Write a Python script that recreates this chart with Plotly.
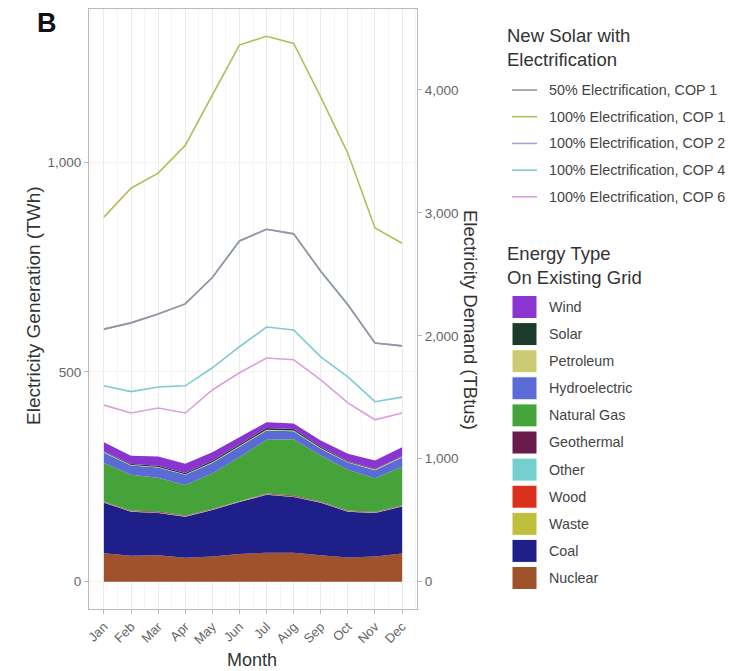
import plotly.graph_objects as go

# ---- data -------------------------------------------------------------
months = ["Jan", "Feb", "Mar", "Apr", "May", "Jun",
          "Jul", "Aug", "Sep", "Oct", "Nov", "Dec"]
month_num = [1, 2, 3, 4, 5, 6, 7, 8, 9, 10, 11, 12]

# Existing grid generation by source (TWh), stacked bottom -> top
nuclear = [68, 62, 63, 57, 60, 66, 69, 69, 63, 58, 60, 67]
coal = [120, 105, 101, 98, 111, 124, 138, 133, 125, 109, 104, 112]
waste = [0.6, 0.5, 0.6, 0.5, 0.6, 0.6, 0.6, 0.6, 0.6, 0.5, 0.5, 0.6]
wood = [0.8, 0.7, 0.8, 0.7, 0.7, 0.8, 0.9, 0.9, 0.8, 0.7, 0.7, 0.8]
other = [0.4, 0.4, 0.4, 0.4, 0.4, 0.4, 0.5, 0.5, 0.4, 0.4, 0.4, 0.4]
geothermal = [1.3, 1.2, 1.3, 1.2, 1.3, 1.3, 1.4, 1.4, 1.3, 1.3, 1.3, 1.3]
natural_gas = [92, 85, 81, 73, 84, 104, 128, 134, 110, 97, 80, 92]
hydroelectric = [24, 22, 24, 24, 25, 24, 22, 19, 16, 17, 19, 22]
petroleum = [1.8, 1.6, 1.5, 1.3, 1.5, 1.7, 1.9, 1.8, 1.6, 1.4, 1.5, 1.7]
solar = [1.5, 2, 3, 3, 4, 4, 4, 4, 3, 2, 1.5, 1.5]
wind = [22, 20, 22, 22, 20, 17, 14, 13, 15, 18, 20, 21]

# Demand with new solar + electrification (TBtu)
elec50_cop1 = [2054, 2105, 2177, 2259, 2474, 2771, 2866, 2829, 2525, 2252, 1941, 1918]
elec100_cop1 = [2965, 3200, 3323, 3548, 3958, 4364, 4436, 4378, 3941, 3484, 2876, 2753]
elec100_cop2 = [2054, 2105, 2177, 2259, 2474, 2771, 2866, 2829, 2525, 2252, 1941, 1918]
elec100_cop4 = [1593, 1546, 1583, 1593, 1740, 1911, 2071, 2047, 1829, 1665, 1464, 1501]
elec100_cop6 = [1436, 1372, 1413, 1372, 1559, 1699, 1819, 1805, 1641, 1454, 1317, 1372]

TBTU_PER_TWH = 3.412

energy_names = ["Nuclear", "Coal", "Waste", "Wood", "Other", "Geothermal",
                "Natural Gas", "Hydroelectric", "Petroleum", "Solar", "Wind"]
energy_values = [nuclear, coal, waste, wood, other, geothermal,
                 natural_gas, hydroelectric, petroleum, solar, wind]
energy_colors = ["#a0522d", "#1f1f8a", "#bfbf3c", "#d9301e", "#74d0cf", "#6a1b4d",
                 "#46a33a", "#5b6bd6", "#c9cc72", "#1d3b2c", "#8a35cf"]

demand_names = ["50% Electrification, COP 1", "100% Electrification, COP 1",
                "100% Electrification, COP 2", "100% Electrification, COP 4",
                "100% Electrification, COP 6"]
demand_values = [elec50_cop1, elec100_cop1, elec100_cop2, elec100_cop4, elec100_cop6]
demand_colors = ["#8f9aa3", "#b8bb5c", "#a3a3d6", "#7ccbd3", "#d9a0d9"]

# ---- layout geometry (pixels) -----------------------------------------
W, H = 755, 671
L, R, T, B = 89, 417, 9, 609
y_range = [-65, 1365]


def px(xp):
    return (xp - L) / (R - L)


def py(yp):
    return (B - yp) / (B - T)


FONT = "Liberation Sans, Arial, sans-serif"
fig = go.Figure()

# stacked areas for the existing grid
for name, vals, col in zip(energy_names, energy_values, energy_colors):
    fig.add_trace(go.Scatter(
        x=month_num, y=vals, name=name, stackgroup="grid", mode="lines",
        line=dict(width=0, color=col), fillcolor=col, showlegend=False,
    ))

# demand lines on the TBtu axis (COP 2 drawn first so the 50% line sits on top)
draw_order = [2, 1, 3, 4, 0]
for i in draw_order:
    fig.add_trace(go.Scatter(
        x=month_num, y=demand_values[i], name=demand_names[i], yaxis="y2",
        mode="lines", line=dict(width=1.6, color=demand_colors[i]), showlegend=False,
    ))

grid_col = "#b9b9b9"
fig.update_layout(
    width=W, height=H,
    margin=dict(l=L, r=W - R, t=T, b=H - B),
    paper_bgcolor="white", plot_bgcolor="white",
    font=dict(family=FONT, color="#555555"),
    showlegend=False,
    xaxis=dict(
        range=[0.45, 12.55], tickvals=month_num, ticktext=months, tickangle=-45,
        tickfont=dict(size=13, color="#666666"),
        showgrid=True, gridcolor="#ebebeb", gridwidth=1,
        minor=dict(dtick=0.5, tick0=0.5, showgrid=True, gridcolor="#f5f5f5", gridwidth=1),
        ticks="outside", ticklen=4, tickcolor=grid_col,
        showline=True, linecolor=grid_col, linewidth=1, mirror=True, zeroline=False,
    ),
    yaxis=dict(
        range=y_range, tickvals=[0, 500, 1000], tickformat=",",
        tickfont=dict(size=13.5, color="#666666"),
        showgrid=True, gridcolor="#f3f3f3", gridwidth=1,
        ticks="outside", ticklen=4, tickcolor=grid_col,
        showline=True, linecolor=grid_col, linewidth=1, mirror=True, zeroline=False,
    ),
    yaxis2=dict(
        range=[y_range[0] * TBTU_PER_TWH, y_range[1] * TBTU_PER_TWH],
        overlaying="y", side="right", anchor="x",
        tickvals=[0, 1000, 2000, 3000, 4000], tickformat=",",
        tickfont=dict(size=13.5, color="#666666"),
        showgrid=False, ticks="outside", ticklen=4, tickcolor=grid_col,
        showline=False, zeroline=False,
    ),
)

ann = []
shapes = []

# panel letter
ann.append(dict(x=px(47), y=py(23), xref="paper", yref="paper", text="<b>B</b>",
                showarrow=False, font=dict(size=27, color="#111111", family=FONT),
                xanchor="center", yanchor="middle"))
# axis titles
ann.append(dict(x=px(33), y=py(306), xref="paper", yref="paper",
                text="Electricity Generation (TWh)", textangle=-90, showarrow=False,
                font=dict(size=19, color="#333333", family=FONT),
                xanchor="center", yanchor="middle"))
ann.append(dict(x=px(471), y=py(320), xref="paper", yref="paper",
                text="Electricity Demand (TBtus)", textangle=90, showarrow=False,
                font=dict(size=18.5, color="#333333", family=FONT),
                xanchor="center", yanchor="middle"))
ann.append(dict(x=px(252), y=py(660), xref="paper", yref="paper",
                text="Month", showarrow=False,
                font=dict(size=18, color="#333333", family=FONT),
                xanchor="center", yanchor="middle"))

# legend: demand lines
ann.append(dict(x=px(505), y=py(48), xref="paper", yref="paper",
                text="New Solar with<br>Electrification", showarrow=False, align="left",
                font=dict(size=18.5, color="#333333", family=FONT),
                xanchor="left", yanchor="middle"))
for k, (name, col) in enumerate(zip(demand_names, demand_colors)):
    yc = 90 + 26.7 * k
    shapes.append(dict(type="line", xref="paper", yref="paper",
                       x0=px(512), x1=px(537), y0=py(yc), y1=py(yc),
                       line=dict(color=col, width=1.6)))
    ann.append(dict(x=px(547), y=py(yc), xref="paper", yref="paper", text=name,
                    showarrow=False, font=dict(size=14.3, color="#444444", family=FONT),
                    xanchor="left", yanchor="middle"))

# legend: energy types (top of stack listed first)
ann.append(dict(x=px(505), y=py(265), xref="paper", yref="paper",
                text="Energy Type<br>On Existing Grid", showarrow=False, align="left",
                font=dict(size=18.5, color="#333333", family=FONT),
                xanchor="left", yanchor="middle"))
for k, (name, col) in enumerate(zip(energy_names[::-1], energy_colors[::-1])):
    yc = 307 + 27.1 * k
    shapes.append(dict(type="rect", xref="paper", yref="paper",
                       x0=px(512), x1=px(537), y0=py(yc - 11.5), y1=py(yc + 11.5),
                       fillcolor=col, line=dict(color="white", width=1)))
    ann.append(dict(x=px(547), y=py(yc), xref="paper", yref="paper", text=name,
                    showarrow=False, font=dict(size=14.3, color="#444444", family=FONT),
                    xanchor="left", yanchor="middle"))

fig.update_layout(annotations=ann, shapes=shapes)
fig.write_html("out.html")
